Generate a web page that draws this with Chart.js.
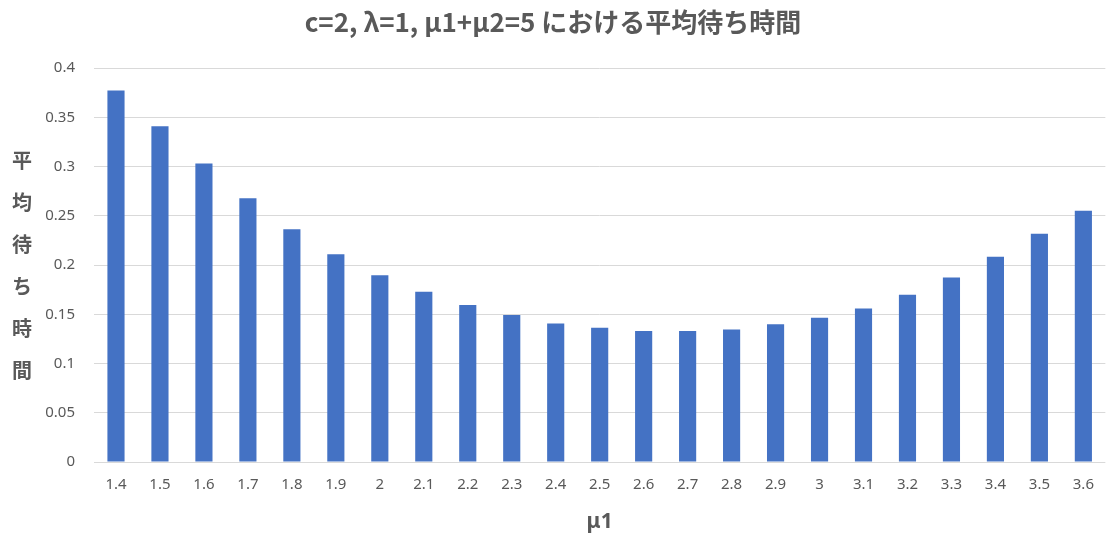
<!DOCTYPE html>
<html lang="ja">
<head>
<meta charset="utf-8">
<title>平均待ち時間</title>
<script src="https://cdn.jsdelivr.net/npm/chart.js@4"></script>
<style>
  html, body { margin: 0; padding: 0; background: #ffffff; }
  #wrap { position: relative; width: 1108px; height: 535px; }
</style>
</head>
<body>
<div id="wrap"><canvas id="chart"></canvas></div>
<script>
// μ1 values on the category axis
const mu1Labels = ['1.4','1.5','1.6','1.7','1.8','1.9','2','2.1','2.2','2.3','2.4','2.5',
                   '2.6','2.7','2.8','2.9','3','3.1','3.2','3.3','3.4','3.5','3.6'];

// mean waiting time for each μ1 (c=2, λ=1, μ1+μ2=5)
const meanWait = [0.3774, 0.3411, 0.3032, 0.2680, 0.2365, 0.2109, 0.1898, 0.1730, 0.1594,
                  0.1492, 0.1408, 0.1364, 0.1330, 0.1330, 0.1347, 0.1398, 0.1466, 0.1560,
                  0.1700, 0.1875, 0.2085, 0.2319, 0.2552];

// value axis tick labels
const yTickLabels = ['0', '0.05', '0.1', '0.15', '0.2', '0.25', '0.3', '0.35', '0.4'];

const chartTitle = 'c=2, λ=1, μ1+μ2=5 における平均待ち時間';
const xTitle = 'μ1';
const yTitle = '平均待ち時間';

const TEXT = '#595959';
const GRID = '#d9d9d9';
const BAR = '#4472c4';
const LATIN = '"Noto Sans", "Noto Sans CJK JP", sans-serif';
const CJK = '"Noto Sans CJK JP", "Noto Sans", sans-serif';

// vertical, upright y-axis title (one character per row)
const stackedYTitle = {
  id: 'stackedYTitle',
  afterDraw(chart) {
    const { ctx, chartArea } = chart;
    const chars = Array.from(yTitle);
    const step = 42;
    const mid = (chartArea.top + chartArea.bottom) / 2;
    ctx.save();
    ctx.fillStyle = TEXT;
    ctx.font = 'bold 20px ' + CJK;
    ctx.textAlign = 'center';
    ctx.textBaseline = 'middle';
    chars.forEach((ch, i) => {
      ctx.fillText(ch, 22, mid + (i - (chars.length - 1) / 2) * step);
    });
    ctx.restore();
  }
};

new Chart(document.getElementById('chart'), {
  type: 'bar',
  data: {
    labels: mu1Labels,
    datasets: [{
      data: meanWait,
      backgroundColor: BAR,
      borderWidth: 0,
      categoryPercentage: 1.0,
      barPercentage: 0.39
    }]
  },
  options: {
    responsive: true,
    maintainAspectRatio: false,
    animation: false,
    devicePixelRatio: 1,
    layout: { padding: { left: 0, right: 2, top: 0, bottom: 0 } },
    plugins: {
      legend: { display: false },
      tooltip: { enabled: false },
      title: {
        display: true,
        text: chartTitle,
        color: TEXT,
        font: { family: CJK, size: 26, weight: 'bold' },
        padding: { top: 7, bottom: 30 }
      }
    },
    scales: {
      x: {
        grid: { display: false, drawTicks: false },
        border: { display: false },
        ticks: {
          color: TEXT,
          font: { family: LATIN, size: 15 },
          padding: 14,
          maxRotation: 0,
          autoSkip: false
        },
        title: {
          display: true,
          text: xTitle,
          color: TEXT,
          font: { family: LATIN, size: 21, weight: 'bold' },
          padding: { top: 0, bottom: 0 }
        },
        afterFit(scale) { scale.height = 73; }
      },
      y: {
        min: 0,
        max: 0.4,
        grid: { color: GRID, lineWidth: 1, drawTicks: false },
        border: { display: false },
        ticks: {
          stepSize: 0.05,
          color: TEXT,
          font: { family: LATIN, size: 15 },
          padding: 19,
          callback: (value, index) => yTickLabels[index]
        },
        afterFit(scale) { scale.width = 94; }
      }
    }
  },
  plugins: [stackedYTitle]
});
</script>
</body>
</html>
